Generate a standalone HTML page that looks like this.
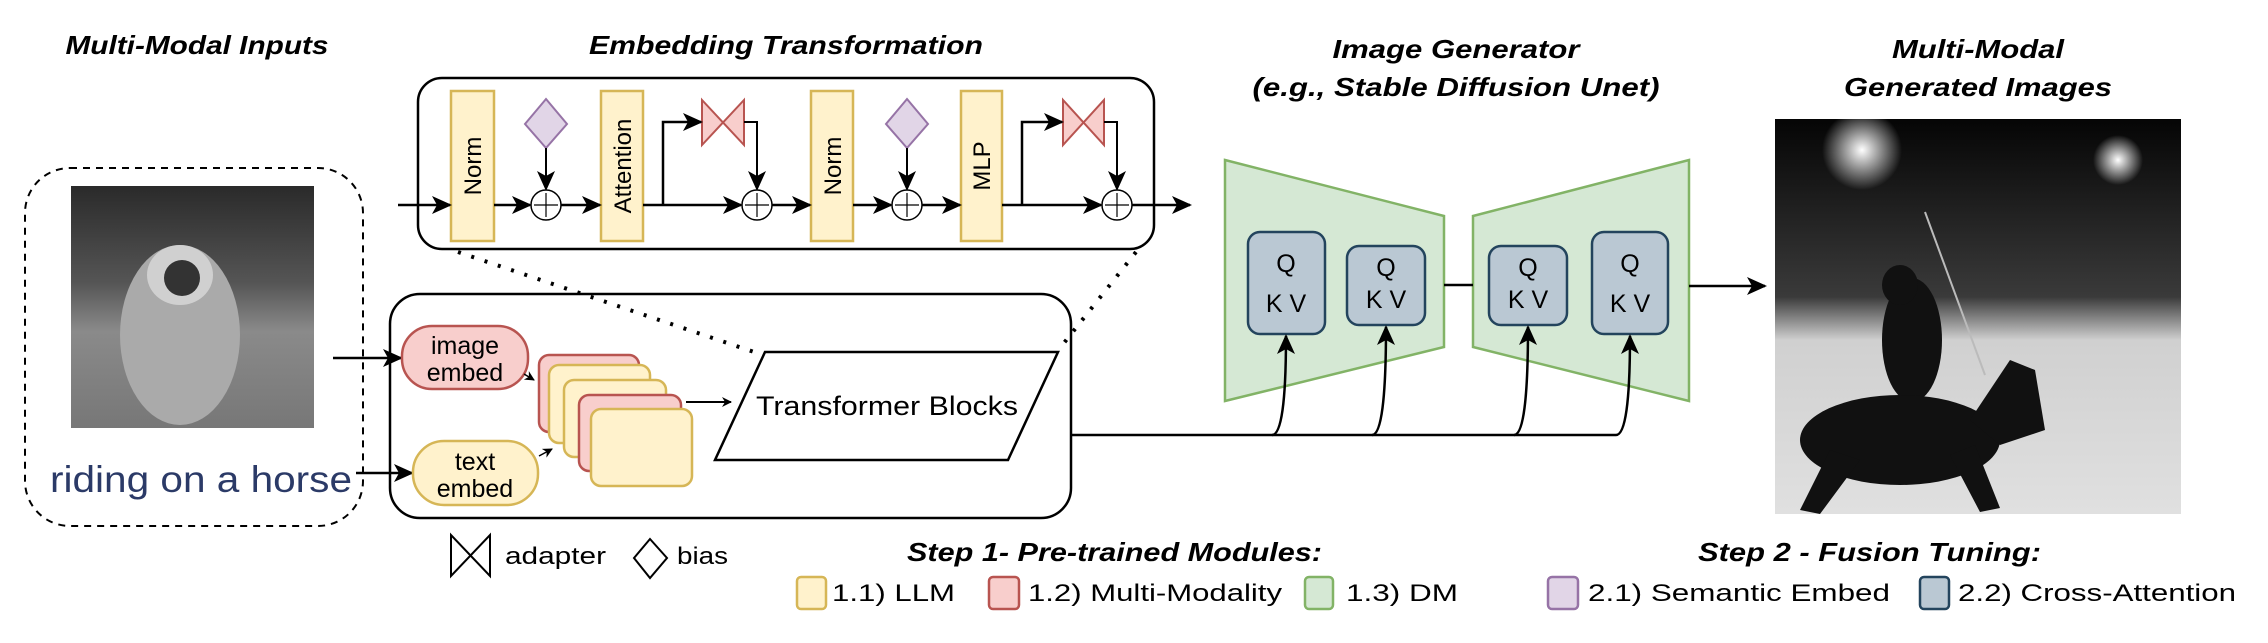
<!DOCTYPE html>
<html><head><meta charset="utf-8"><style>
html,body{margin:0;padding:0;background:#fff;}
svg{display:block;}
text{font-family:"Liberation Sans",sans-serif;}
.t{font-weight:bold;font-style:italic;font-size:26px;}
</style></head><body>
<svg width="2268" height="643" viewBox="0 0 2268 643" xmlns="http://www.w3.org/2000/svg">
<defs>
<marker id="ar" markerWidth="10" markerHeight="10" refX="9" refY="5" orient="auto" markerUnits="userSpaceOnUse" viewBox="0 0 10 10">
<path d="M0,0 L10,5 L0,10 L3,5 Z" fill="#000"/></marker>
<marker id="ab" markerWidth="20" markerHeight="20" refX="18" refY="10" orient="auto" markerUnits="userSpaceOnUse" viewBox="0 0 20 20">
<path d="M0,1 L20,10 L0,19 L5,10 Z" fill="#000"/></marker>
<linearGradient id="sky" x1="0" y1="0" x2="0" y2="1">
<stop offset="0" stop-color="#050505"/><stop offset="0.45" stop-color="#3a3a3a"/><stop offset="0.56" stop-color="#d0d0d0"/><stop offset="1" stop-color="#e0e0e0"/></linearGradient>
<linearGradient id="ast" x1="0" y1="0" x2="0" y2="1">
<stop offset="0" stop-color="#2a2a2a"/><stop offset="0.4" stop-color="#555"/><stop offset="0.6" stop-color="#8a8a8a"/><stop offset="1" stop-color="#777"/></linearGradient>
<radialGradient id="sun"><stop offset="0" stop-color="#fff"/><stop offset="1" stop-color="#fff" stop-opacity="0"/></radialGradient>
</defs>

<text class="t" x="197" y="54" text-anchor="middle" textLength="263" lengthAdjust="spacingAndGlyphs">Multi-Modal Inputs</text>
<text class="t" x="786" y="54" text-anchor="middle" textLength="394" lengthAdjust="spacingAndGlyphs">Embedding Transformation</text>
<text class="t" x="1456" y="58" text-anchor="middle" textLength="247" lengthAdjust="spacingAndGlyphs">Image Generator</text>
<text class="t" x="1456" y="96" text-anchor="middle" textLength="407" lengthAdjust="spacingAndGlyphs">(e.g., Stable Diffusion Unet)</text>
<text class="t" x="1978" y="58" text-anchor="middle" textLength="172" lengthAdjust="spacingAndGlyphs">Multi-Modal</text>
<text class="t" x="1978" y="96" text-anchor="middle" textLength="268" lengthAdjust="spacingAndGlyphs">Generated Images</text>

<rect x="25" y="168" width="338" height="358" rx="45" fill="none" stroke="#000" stroke-width="2" stroke-dasharray="7,6"/>
<rect x="71" y="186" width="243" height="242" fill="url(#ast)"/>
<ellipse cx="180" cy="335" rx="60" ry="90" fill="#aaa"/>
<ellipse cx="180" cy="275" rx="33" ry="30" fill="#d0d0d0"/>
<ellipse cx="182" cy="278" rx="18" ry="18" fill="#333"/>
<text x="50" y="492" font-size="37" fill="#2b3a67" textLength="302" lengthAdjust="spacingAndGlyphs">riding on a horse</text>

<rect x="418" y="78" width="736" height="171" rx="24" fill="#fff" stroke="#000" stroke-width="2.5"/>
<g stroke="#d6b656" stroke-width="2.5" fill="#fff2cc">
<rect x="451" y="91" width="43" height="150"/>
<rect x="601" y="91" width="42" height="150"/>
<rect x="811" y="91" width="42" height="150"/>
<rect x="961" y="91" width="41" height="150"/>
</g>
<g font-size="24" text-anchor="middle">
<text transform="translate(481,166) rotate(-90)">Norm</text>
<text transform="translate(631,166) rotate(-90)">Attention</text>
<text transform="translate(841,166) rotate(-90)">Norm</text>
<text transform="translate(990,166) rotate(-90)">MLP</text>
</g>
<g fill="#e1d5e7" stroke="#9673a6" stroke-width="2">
<path d="M546,99 L567,124 L546,148 L525,124 Z"/>
<path d="M907,99 L928,124 L907,148 L886,124 Z"/>
</g>
<g fill="#f8cecc" stroke="#b85450" stroke-width="2">
<path d="M702,100 L702,145 L744,100 L744,145 Z"/>
<path d="M1063,100 L1063,145 L1104,100 L1104,145 Z"/>
</g>
<g stroke="#000" stroke-width="2.5" fill="none">
<line x1="398" y1="205" x2="450" y2="205" marker-end="url(#ab)"/>
<line x1="494" y1="205" x2="530" y2="205" marker-end="url(#ab)"/>
<line x1="561" y1="205" x2="600" y2="205" marker-end="url(#ab)"/>
<line x1="643" y1="205" x2="741" y2="205" marker-end="url(#ab)"/>
<line x1="772" y1="205" x2="810" y2="205" marker-end="url(#ab)"/>
<line x1="853" y1="205" x2="891" y2="205" marker-end="url(#ab)"/>
<line x1="922" y1="205" x2="960" y2="205" marker-end="url(#ab)"/>
<line x1="1002" y1="205" x2="1101" y2="205" marker-end="url(#ab)"/>
<line x1="1132" y1="205" x2="1190" y2="205" marker-end="url(#ab)"/>
<polyline points="663,205 663,122 701,122" marker-end="url(#ab)"/>
<polyline points="1022,205 1022,122 1062,122" marker-end="url(#ab)"/>
<polyline points="744,122 757,122 757,189" marker-end="url(#ab)" stroke-width="2"/>
<polyline points="1104,122 1117,122 1117,189" marker-end="url(#ab)" stroke-width="2"/>
<line x1="546" y1="148" x2="546" y2="189" marker-end="url(#ab)" stroke-width="2"/>
<line x1="907" y1="148" x2="907" y2="189" marker-end="url(#ab)" stroke-width="2"/>
</g>
<g fill="#fff" stroke="#000" stroke-width="1.5">
<circle cx="546" cy="205" r="15"/><circle cx="757" cy="205" r="15"/><circle cx="907" cy="205" r="15"/><circle cx="1117" cy="205" r="15"/>
</g>
<g stroke="#000" stroke-width="1.2">
<path d="M546,193V217M534,205H558"/><path d="M757,193V217M745,205H769"/><path d="M907,193V217M895,205H919"/><path d="M1117,193V217M1105,205H1129"/>
</g>

<line x1="458" y1="252" x2="754" y2="352" stroke="#000" stroke-width="4" stroke-dasharray="3,11"/>
<line x1="1136" y1="252" x2="1060" y2="348" stroke="#000" stroke-width="4" stroke-dasharray="3,11"/>

<rect x="390" y="294" width="681" height="224" rx="30" fill="none" stroke="#000" stroke-width="2.5"/>
<line x1="333" y1="358" x2="401" y2="358" stroke="#000" stroke-width="2.5" marker-end="url(#ab)"/>
<line x1="356" y1="473" x2="412" y2="473" stroke="#000" stroke-width="2.5" marker-end="url(#ab)"/>
<rect x="402" y="326" width="126" height="63" rx="30" fill="#f8cecc" stroke="#b85450" stroke-width="2.5"/>
<rect x="413" y="441" width="125" height="64" rx="31" fill="#fff2cc" stroke="#d6b656" stroke-width="2.5"/>
<text x="465" y="354" font-size="25" text-anchor="middle">image</text>
<text x="465" y="381" font-size="25" text-anchor="middle">embed</text>
<text x="475" y="470" font-size="25" text-anchor="middle">text</text>
<text x="475" y="497" font-size="25" text-anchor="middle">embed</text>
<rect x="539" y="355" width="100" height="77" rx="10" fill="#f8cecc" stroke="#b85450" stroke-width="2.5"/>
<rect x="549" y="365" width="101" height="78" rx="10" fill="#fff2cc" stroke="#d6b656" stroke-width="2.5"/>
<rect x="564" y="380" width="102" height="77" rx="10" fill="#fff2cc" stroke="#d6b656" stroke-width="2.5"/>
<rect x="579" y="395" width="102" height="76" rx="10" fill="#f8cecc" stroke="#b85450" stroke-width="2.5"/>
<rect x="591" y="409" width="101" height="77" rx="10" fill="#fff2cc" stroke="#d6b656" stroke-width="2.5"/>
<line x1="524" y1="374" x2="534" y2="380" stroke="#000" stroke-width="1.5" marker-end="url(#ar)"/>
<line x1="539" y1="456" x2="552" y2="449" stroke="#000" stroke-width="1.5" marker-end="url(#ar)"/>
<line x1="686" y1="402" x2="731" y2="402" stroke="#000" stroke-width="2" marker-end="url(#ar)"/>
<path d="M765,352 L1058,352 L1008,460 L715,460 Z" fill="#fff" stroke="#000" stroke-width="2.5"/>
<text x="887" y="415" font-size="27" text-anchor="middle" textLength="262" lengthAdjust="spacingAndGlyphs">Transformer Blocks</text>

<path d="M1225,160 L1444,216 L1444,347 L1225,401 Z" fill="#d5e8d4" stroke="#82b366" stroke-width="2.5"/>
<path d="M1473,216 L1689,160 L1689,401 L1473,347 Z" fill="#d5e8d4" stroke="#82b366" stroke-width="2.5"/>
<line x1="1444" y1="285" x2="1473" y2="285" stroke="#000" stroke-width="2.5"/>
<g fill="#bac8d3" stroke="#23445d" stroke-width="2.5">
<rect x="1248" y="232" width="77" height="102" rx="12"/>
<rect x="1347" y="246" width="78" height="79" rx="12"/>
<rect x="1489" y="246" width="78" height="79" rx="12"/>
<rect x="1592" y="232" width="76" height="102" rx="12"/>
</g>
<g font-size="25" text-anchor="middle">
<text x="1286" y="272">Q</text><text x="1286" y="312">K V</text>
<text x="1386" y="276">Q</text><text x="1386" y="308">K V</text>
<text x="1528" y="276">Q</text><text x="1528" y="308">K V</text>
<text x="1630" y="272">Q</text><text x="1630" y="312">K V</text>
</g>
<g stroke="#000" stroke-width="2.5" fill="none">
<path d="M1071,435 L1616,435"/>
<path d="M1272,435 Q1286,435 1286,336" marker-end="url(#ab)"/>
<path d="M1372,435 Q1386,435 1386,327" marker-end="url(#ab)"/>
<path d="M1514,435 Q1528,435 1528,327" marker-end="url(#ab)"/>
<path d="M1616,435 Q1630,435 1630,336" marker-end="url(#ab)"/>
<line x1="1689" y1="286" x2="1765" y2="286" marker-end="url(#ab)"/>
</g>

<rect x="1775" y="119" width="406" height="395" fill="url(#sky)"/>
<circle cx="1862" cy="150" r="40" fill="url(#sun)"/>
<circle cx="2118" cy="160" r="25" fill="url(#sun)"/>
<line x1="1925" y1="212" x2="1985" y2="375" stroke="#bbb" stroke-width="2"/>
<ellipse cx="1912" cy="340" rx="30" ry="62" fill="#111"/>
<ellipse cx="1900" cy="285" rx="18" ry="20" fill="#111"/>
<ellipse cx="1900" cy="440" rx="100" ry="45" fill="#111"/>
<path d="M1970,420 L2010,360 L2035,370 L2045,430 L2000,445 Z" fill="#111"/>
<path d="M1830,450 L1800,510 L1820,514 L1860,460 Z M1950,455 L1980,512 L2000,508 L1975,445 Z" fill="#111"/>

<path d="M451,535 L451,576 L490,535 L490,576 Z" fill="#fff" stroke="#000" stroke-width="2"/>
<text x="505" y="564" font-size="24" textLength="101" lengthAdjust="spacingAndGlyphs">adapter</text>
<path d="M650,539 L667,558 L650,578 L634,558 Z" fill="#fff" stroke="#000" stroke-width="2"/>
<text x="677" y="564" font-size="24" textLength="51" lengthAdjust="spacingAndGlyphs">bias</text>
<text class="t" x="907" y="561" textLength="415" lengthAdjust="spacingAndGlyphs">Step 1- Pre-trained Modules:</text>
<text class="t" x="1698" y="561" textLength="343" lengthAdjust="spacingAndGlyphs">Step 2 - Fusion Tuning:</text>
<rect x="797" y="577" width="29" height="32" rx="4" fill="#fff2cc" stroke="#d6b656" stroke-width="2.5"/>
<text x="832" y="601" font-size="24" textLength="123" lengthAdjust="spacingAndGlyphs">1.1) LLM</text>
<rect x="989" y="577" width="30" height="32" rx="4" fill="#f8cecc" stroke="#b85450" stroke-width="2.5"/>
<text x="1028" y="601" font-size="24" textLength="254" lengthAdjust="spacingAndGlyphs">1.2) Multi-Modality</text>
<rect x="1305" y="577" width="28" height="32" rx="4" fill="#d5e8d4" stroke="#82b366" stroke-width="2.5"/>
<text x="1346" y="601" font-size="24" textLength="112" lengthAdjust="spacingAndGlyphs">1.3) DM</text>
<rect x="1548" y="577" width="30" height="32" rx="4" fill="#e1d5e7" stroke="#9673a6" stroke-width="2.5"/>
<text x="1588" y="601" font-size="24" textLength="302" lengthAdjust="spacingAndGlyphs">2.1) Semantic Embed</text>
<rect x="1920" y="577" width="29" height="32" rx="4" fill="#bac8d3" stroke="#23445d" stroke-width="2.5"/>
<text x="1958" y="601" font-size="24" textLength="278" lengthAdjust="spacingAndGlyphs">2.2) Cross-Attention</text>
</svg>
</body></html>
